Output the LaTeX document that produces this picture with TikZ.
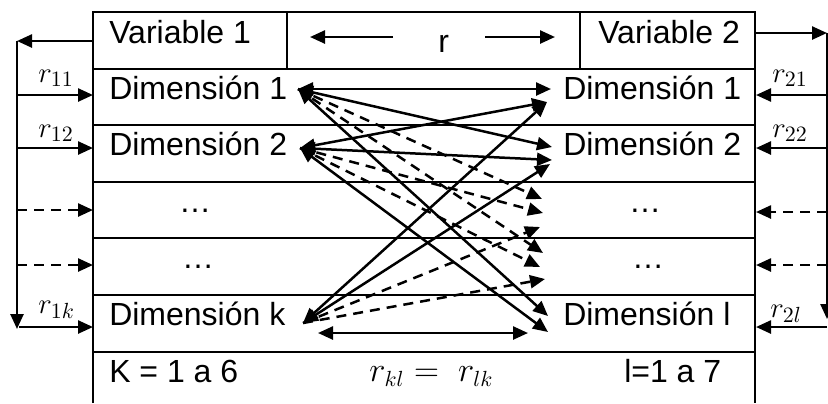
\documentclass[tikz,border=0pt]{standalone}
\usepackage{fontspec}
\setmainfont{Liberation Sans}
\usetikzlibrary{arrows.meta}
\begin{document}
\begin{tikzpicture}[x=0.5pt,y=-0.5pt, line width=1.25pt,
  tip/.style={-{Triangle[length=7.5pt,width=6.5pt]}},
  dtip/.style={{Triangle[length=7.5pt,width=6.5pt]}-{Triangle[length=7.5pt,width=6.5pt]}},
  dsh/.style={dash pattern=on 5pt off 3.5pt},
  txt/.style={anchor=base west, inner sep=0pt, font=\fontsize{16}{19}\selectfont},
  ctxt/.style={anchor=base, inner sep=0pt, font=\fontsize{16}{19}\selectfont},
  sublbl/.style={anchor=base west, inner sep=0pt, font=\fontsize{15}{17}\selectfont},
  gridline/.style={line width=1.4pt}]
\useasboundingbox (0,0) rectangle (828,403);

% table
\draw[gridline] (93,403) -- (93,12) -- (755,12) -- (755,403);
\foreach \y in {69,125,182,238,295,352} \draw[gridline] (93,\y) -- (755,\y);
\draw[gridline] (287,12) -- (287,69);
\draw[gridline] (580,12) -- (580,69);

% texts
\node[txt] (v1) at (108,43) {Variable 1};
\node[txt] (v2) at (597,43) {Variable 2};
\node[txt] (rr) at (437,52) {r};
\node[txt] (d1l) at (108,99) {Dimensión 1};
\node[txt] (d2l) at (108,155) {Dimensión 2};
\node[ctxt] (e3l) at (195,212) {…};
\node[ctxt] (e4l) at (198,268) {…};
\node[txt] (dkl) at (108,325) {Dimensión k};
\node[txt] (kk) at (108,382) {K = 1 a 6};
\node[txt] (d1r) at (562,99) {Dimensión 1};
\node[txt] (d2r) at (562,155) {Dimensión 2};
\node[ctxt] (e3r) at (645,212) {…};
\node[ctxt] (e4r) at (648,268) {…};
\node[txt] (dlr) at (562,325) {Dimensión l};
\node[txt] (ll) at (623,382) {l=1 a 7};
\node[txt] (eq) at (368,381) {$r_{kl} =\; r_{lk}$};

\node[sublbl] (r11) at (37,82) {$r_{11}$};
\node[sublbl] (r12) at (37,137) {$r_{12}$};
\node[sublbl] (r1k) at (37,313) {$r_{1k}$};
\node[sublbl] (r21) at (771,82) {$r_{21}$};
\node[sublbl] (r22) at (771,137) {$r_{22}$};
\node[sublbl] (r2l) at (769,317) {$r_{2l}$};

% top middle arrows
\coordinate (ta1) at (393,37); \coordinate (ta2) at (310,37);
\coordinate (tb1) at (485,37); \coordinate (tb2) at (555,37);
\draw[tip] (ta1) -- (ta2);
\draw[tip] (tb1) -- (tb2);

% left external arrows
\coordinate (lt) at (93,41); \coordinate (lc) at (17,41); \coordinate (lb) at (17,329);
\draw[tip] (lt) -- (lc);
\draw[tip] (lc) -- (lb);
\coordinate (lsa) at (17,95);  \coordinate (lea) at (93,95);
\coordinate (lsb) at (17,148); \coordinate (leb) at (93,148);
\coordinate (lsc) at (17,210); \coordinate (lec) at (93,210);
\coordinate (lsd) at (17,265); \coordinate (led) at (93,265);
\coordinate (lse) at (19,327); \coordinate (lee) at (93,327);
\draw[tip] (lsa) -- (lea);
\draw[tip] (lsb) -- (leb);
\draw[tip,dsh] (lsc) -- (lec);
\draw[tip,dsh] (lsd) -- (led);
\draw[tip] (lse) -- (lee);

% right external arrows
\coordinate (rt) at (755,33); \coordinate (rc) at (827,33); \coordinate (rb) at (827,319);
\draw[tip] (rt) -- (rc);
\draw[tip] (rc) -- (rb);
\coordinate (rsa) at (827,95);  \coordinate (rea) at (756,95);
\coordinate (rsb) at (827,148); \coordinate (reb) at (756,148);
\coordinate (rsc) at (827,212); \coordinate (rec) at (756,212);
\coordinate (rsd) at (827,265); \coordinate (red) at (756,265);
\coordinate (rse) at (827,327); \coordinate (ree) at (756,327);
\draw[tip] (rsa) -- (rea);
\draw[tip] (rsb) -- (reb);
\draw[tip,dsh] (rsc) -- (rec);
\draw[tip,dsh] (rsd) -- (red);
\draw[tip] (rse) -- (ree);

% interior connectors
\coordinate (L1) at (298,89);
\coordinate (L2) at (300,148);
\coordinate (Lk) at (303,323);
\coordinate (R1a) at (551,89);
\coordinate (R1b) at (547,102);
\coordinate (R2a) at (552,147);
\coordinate (R2b) at (552,160);
\coordinate (R2c) at (550,164);
\coordinate (Rla) at (548,316);
\coordinate (Rlb) at (548,332);
\coordinate (B1) at (318,333);
\coordinate (B2) at (528,333);
\coordinate (D3a) at (542,199);
\coordinate (D3b) at (543,213);
\coordinate (D3c) at (540,227);
\coordinate (D4a) at (543,253);
\coordinate (D4b) at (540,267);
\coordinate (D4c) at (545,279);

\draw[dtip] (L1) -- (R1a);
\draw[dtip] (L1) -- (R2a);
\draw[dtip] (L1) -- (Rla);
\draw[dtip] (L2) -- (R1b);
\draw[dtip] (L2) -- (R2b);
\draw[dtip] (L2) -- (Rlb);
\draw[dtip] (Lk) -- (R1b);
\draw[dtip] (Lk) -- (R2c);
\draw[dtip] (B1) -- (B2);
\draw[tip,dsh] (L1) -- (D3a);
\draw[tip,dsh] (L1) -- (D4a);
\draw[tip,dsh] (L2) -- (D3b);
\draw[tip,dsh] (L2) -- (D4b);
\draw[tip,dsh] (Lk) -- (D3c);
\draw[tip,dsh] (Lk) -- (D4c);
\end{tikzpicture}
\end{document}
